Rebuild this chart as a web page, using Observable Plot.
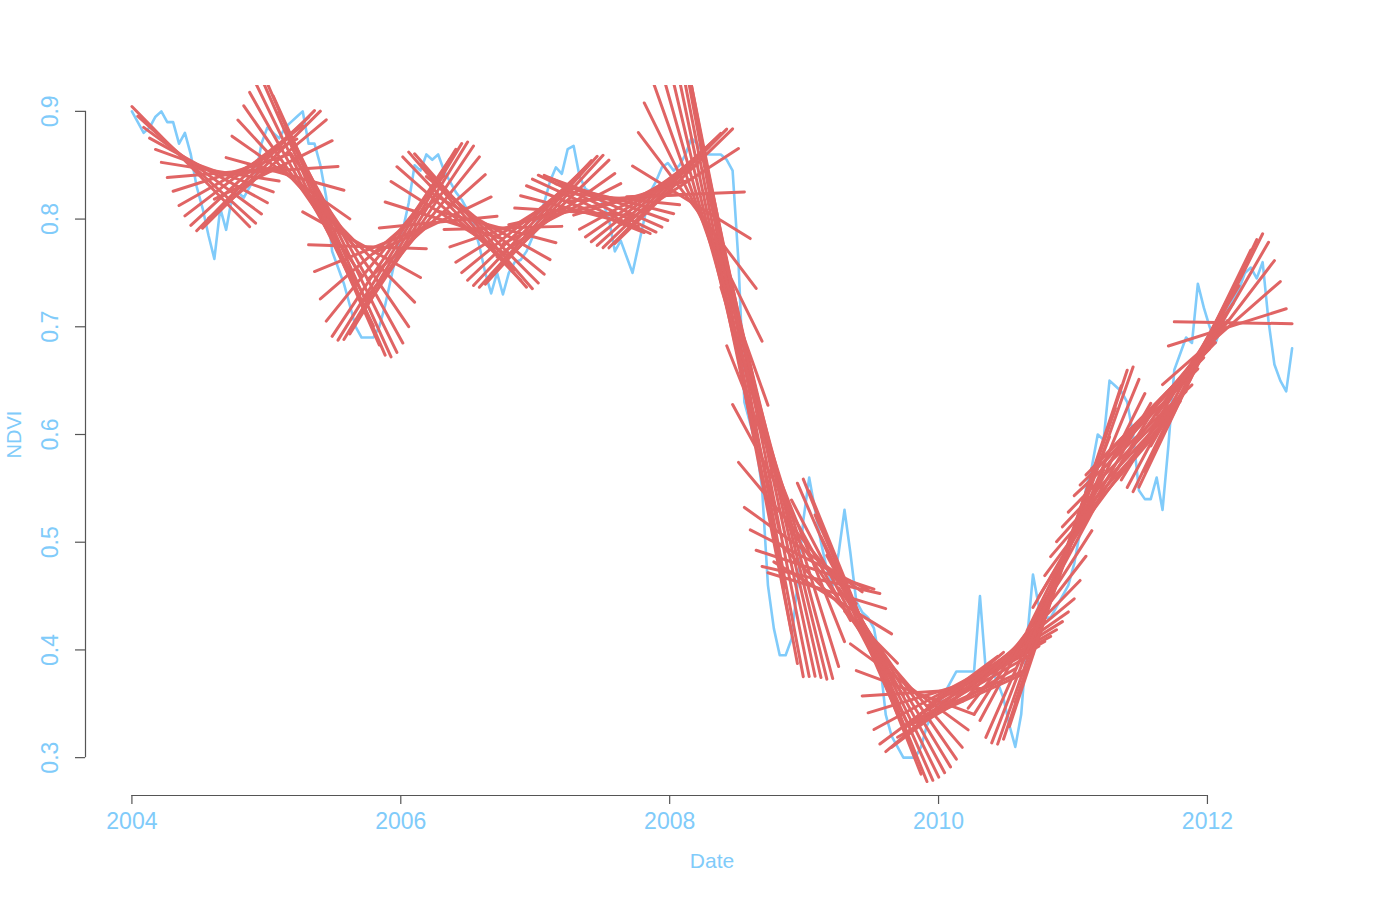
<!DOCTYPE html>
<html>
<head>
<meta charset="utf-8">
<script src="https://cdn.jsdelivr.net/npm/d3@7"></script>
<script src="https://cdn.jsdelivr.net/npm/@observablehq/plot@0.6"></script>
<style>
  html, body { margin: 0; padding: 0; background: #ffffff; }
  #chart { width: 1381px; height: 900px; }
  svg { font-family: "Liberation Sans", Arial, Helvetica, sans-serif; }
</style>
</head>
<body>
<div id="chart"></div>
<script>
// ---- Data ----
// 16-day NDVI composites starting at the beginning of 2004
const startYear = 2004;
const stepDays = 16;
const ndvi2004 = [0.90,0.89,0.88,0.885,0.895,0.90,0.89,0.89,0.87,0.88,0.86,0.83,0.81,0.785,0.763,0.81,0.79,0.82,0.825,0.82,0.83,0.84,0.87];
const ndvi2005 = [0.885,0.88,0.875,0.885,0.89,0.895,0.90,0.87,0.87,0.85,0.82,0.77,0.755,0.74,0.72,0.70,0.69,0.69,0.69,0.70,0.72,0.745,0.77];
const ndvi2006 = [0.79,0.815,0.85,0.845,0.86,0.855,0.86,0.845,0.835,0.825,0.818,0.808,0.795,0.775,0.75,0.731,0.75,0.73,0.75,0.76,0.762,0.77,0.783];
const ndvi2007 = [0.80,0.815,0.835,0.848,0.842,0.865,0.868,0.84,0.828,0.825,0.82,0.815,0.80,0.77,0.78,0.765,0.75,0.775,0.80,0.825,0.835,0.848,0.852];
const ndvi2008 = [0.845,0.85,0.86,0.875,0.87,0.862,0.86,0.86,0.86,0.855,0.845,0.76,0.63,0.61,0.59,0.55,0.46,0.42,0.395,0.395,0.41,0.46,0.52];
const ndvi2009 = [0.56,0.53,0.50,0.475,0.46,0.49,0.53,0.49,0.445,0.435,0.43,0.42,0.39,0.34,0.32,0.31,0.30,0.30,0.30,0.31,0.33,0.34,0.35];
const ndvi2010 = [0.36,0.37,0.38,0.38,0.38,0.38,0.45,0.38,0.38,0.37,0.355,0.33,0.31,0.34,0.41,0.47,0.44,0.43,0.43,0.44,0.45,0.46,0.48];
const ndvi2011 = [0.51,0.55,0.57,0.60,0.595,0.65,0.645,0.64,0.63,0.60,0.548,0.54,0.54,0.56,0.53,0.59,0.66,0.675,0.69,0.685,0.74,0.718,0.70];
const ndvi2012 = [0.685,0.70,0.715,0.725,0.735,0.75,0.755,0.745,0.76,0.705,0.665,0.65,0.64,0.68];

// rolling linear-trend window (number of observations)
const windowSize = 21;

// axis ticks
const xTicks = [2004, 2006, 2008, 2010, 2012];
const yTicks = [0.3, 0.4, 0.5, 0.6, 0.7, 0.8, 0.9];

// ---- Build tables ----
const values = [].concat(ndvi2004, ndvi2005, ndvi2006, ndvi2007, ndvi2008, ndvi2009, ndvi2010, ndvi2011, ndvi2012);
const series = values.map((v, i) => ({t: startYear + i * stepDays / 365.25, v}));

const windows = [];
for (let i = 0; i + windowSize <= series.length; i++) {
  for (let j = i; j < i + windowSize; j++) windows.push({w: i, t: series[j].t, v: series[j].v});
}

// R-like 4% padding of the data range
const pad = (ext) => { const r = ext[1] - ext[0]; return [ext[0] - 0.04 * r, ext[1] + 0.04 * r]; };
const xDomain = pad(d3.extent(series, d => d.t));
const yDomain = pad(d3.extent(series, d => d.v));

const blue = "#80CBFA";
const red = "#E06464";
const axisGray = "#555555";

const chart = Plot.plot({
  width: 1381,
  height: 900,
  marginLeft: 85,
  marginRight: 43,
  marginTop: 85,
  marginBottom: 117,
  x: {domain: xDomain},
  y: {domain: yDomain},
  style: {fontFamily: "Liberation Sans, Arial, Helvetica, sans-serif", background: "white"},
  marks: [
    // NDVI series
    Plot.line(series, {x: "t", y: "v", stroke: blue, strokeWidth: 2.6, strokeLinejoin: "round"}),
    // rolling linear trends
    Plot.linearRegressionY(windows, {x: "t", y: "v", z: "w", ci: 0, stroke: red, strokeWidth: 3, strokeLinecap: "round", clip: true}),
    // y axis
    Plot.ruleX([xDomain[0]], {y1: yTicks[0], y2: yTicks[yTicks.length - 1], stroke: axisGray, strokeWidth: 1.2}),
    Plot.axisY({ticks: yTicks, tickSize: 10, tickFormat: () => "", label: null, stroke: axisGray, strokeWidth: 1.2}),
    Plot.text(yTicks, {y: d => d, frameAnchor: "left", dx: -35, rotate: -90, textAnchor: "middle", lineAnchor: "middle", text: d => d.toFixed(1), fill: blue, fontSize: 23}),
    Plot.text(["NDVI"], {frameAnchor: "left", dx: -71, rotate: -90, textAnchor: "middle", lineAnchor: "middle", text: d => d, fill: blue, fontSize: 20}),
    // x axis
    Plot.ruleY([yDomain[0]], {x1: xTicks[0], x2: xTicks[xTicks.length - 1], dy: 12, stroke: axisGray, strokeWidth: 1.2}),
    Plot.axisX({ticks: xTicks, tickSize: 9, dy: 12, tickFormat: () => "", label: null, stroke: axisGray, strokeWidth: 1.2}),
    Plot.text(xTicks, {x: d => d, frameAnchor: "bottom", dy: 38, textAnchor: "middle", lineAnchor: "middle", text: d => String(d), fill: blue, fontSize: 23}),
    Plot.text(["Date"], {frameAnchor: "bottom", dy: 78, textAnchor: "middle", lineAnchor: "middle", text: d => d, fill: blue, fontSize: 21})
  ]
});
document.getElementById("chart").appendChild(chart);
</script>
</body>
</html>
